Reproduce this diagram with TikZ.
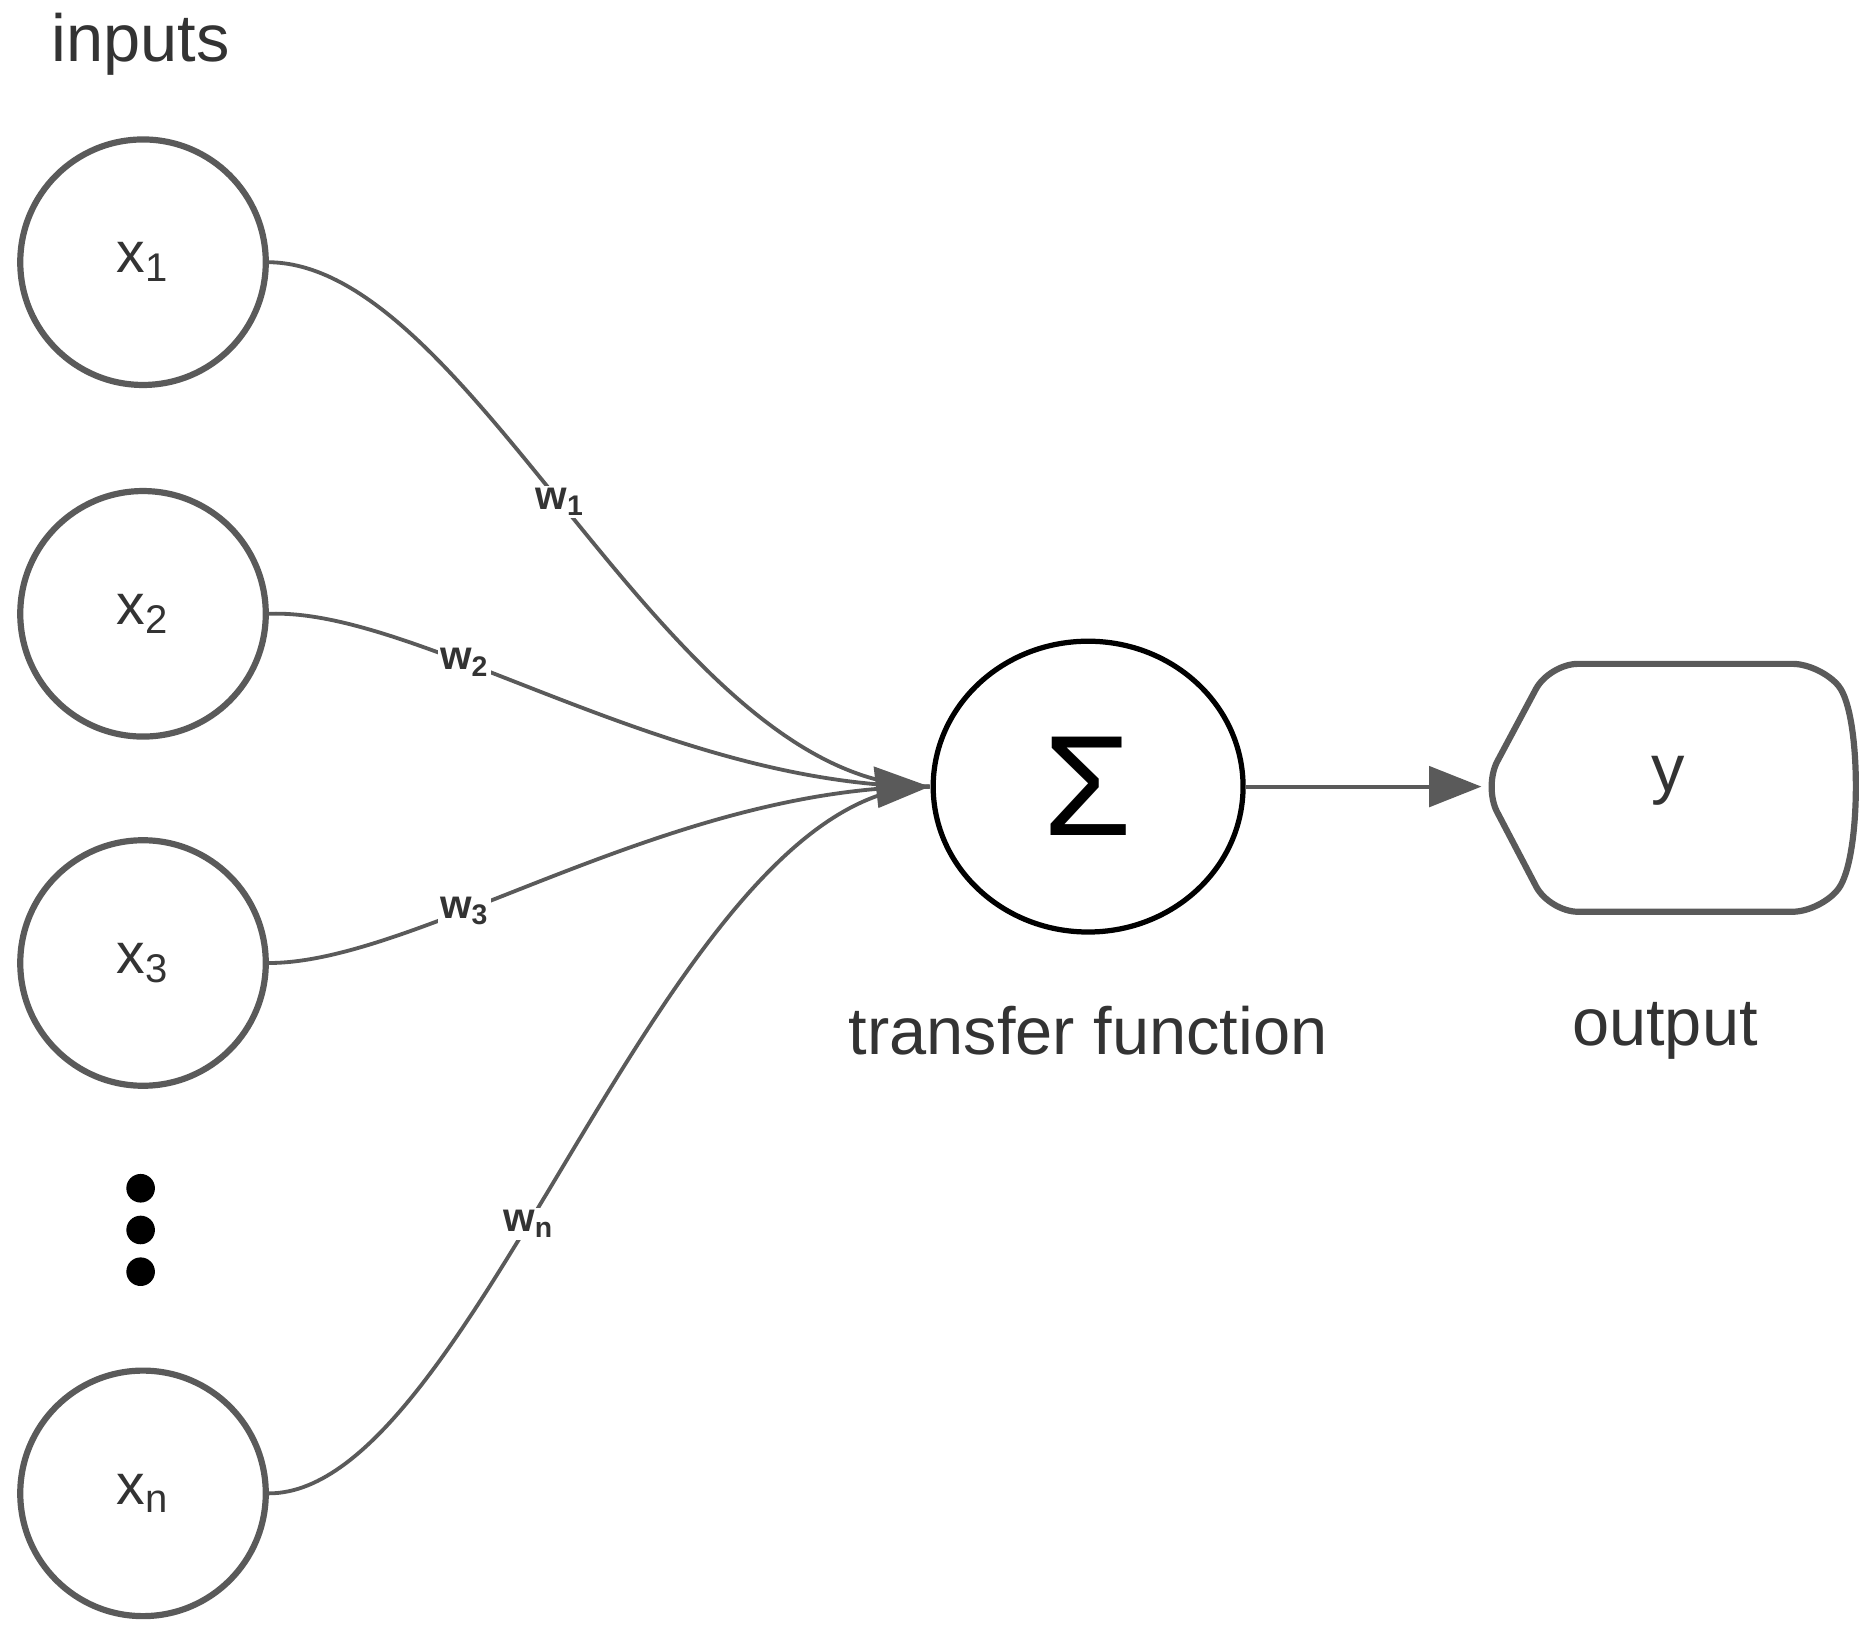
\documentclass[tikz,border=0pt]{standalone}
\usepackage{fontspec}
\setmainfont{Liberation Sans}
\usetikzlibrary{arrows.meta,shapes.geometric}
\definecolor{ln}{HTML}{5A5A5A}
\definecolor{tx}{HTML}{333333}
\begin{document}
\begin{tikzpicture}[x=0.5pt,y=-0.5pt,
  inp/.style={circle,draw=ln,line width=2.6pt,minimum size=206*0.5pt,inner sep=0pt,text=tx,font=\fontsize{24}{28}\selectfont},
  wl/.style={fill=white,inner sep=1pt,text=tx,font=\bfseries\fontsize{17}{20}\selectfont},
  con/.style={draw=ln,line width=1.6pt},
  lab/.style={text=tx,font=\fontsize{28}{32}\selectfont}]
\useasboundingbox (0,0) rectangle (1564,1367);
\node[lab] (inputs) at (118,37) {inputs};
\node[inp] (x1) at (120,220) {x\textsubscript{1}};
\node[inp] (x2) at (120,515) {x\textsubscript{2}};
\node[inp] (x3) at (120,808) {x\textsubscript{3}};
\node[inp] (xn) at (120,1253) {x\textsubscript{n}};
\foreach \i/\y in {1/997,2/1032,3/1067} \fill (118,\y) circle[radius=6pt] coordinate (d\i);
\node[ellipse,draw=black,line width=2.2pt,minimum width=130pt,minimum height=122pt,inner sep=0pt,font=\fontsize{60}{60}\selectfont] (sum) at (913,660) {Σ};
\coordinate (tip) at (780,660);
\draw[con] (x1.east) .. controls (400,222) and (560,660) .. node[wl,pos=0.47] {w\textsubscript{1}} (tip);
\draw[con] (x2.east) .. controls (350,510) and (560,660) .. node[wl,pos=0.36] {w\textsubscript{2}} (tip);
\draw[con] (x3.east) .. controls (350,808) and (560,660) .. node[wl,pos=0.36] {w\textsubscript{3}} (tip);
\draw[con] (xn.east) .. controls (400,1253) and (560,660) .. node[wl,pos=0.42] {w\textsubscript{n}} (tip);
\fill[ln] (tip) -- (733,643) -- (737,678) -- cycle;
\path[draw=ln,line width=2.6pt,rounded corners=12pt] (1245,660) -- (1300,557) -- (1528,557) .. controls (1562,600) and (1562,720) .. (1528,765) -- (1300,765) -- cycle;
\node[lab] (y) at (1400,655) {y};
\coordinate (outl) at (1243,660);
\draw[con,-{Triangle[length=22pt,width=17pt]}] (sum.east) -- (outl);
\node[lab] (tf) at (913,865) {transfer function};
\node[lab] (op) at (1397,865) {output};
\end{tikzpicture}
\end{document}
